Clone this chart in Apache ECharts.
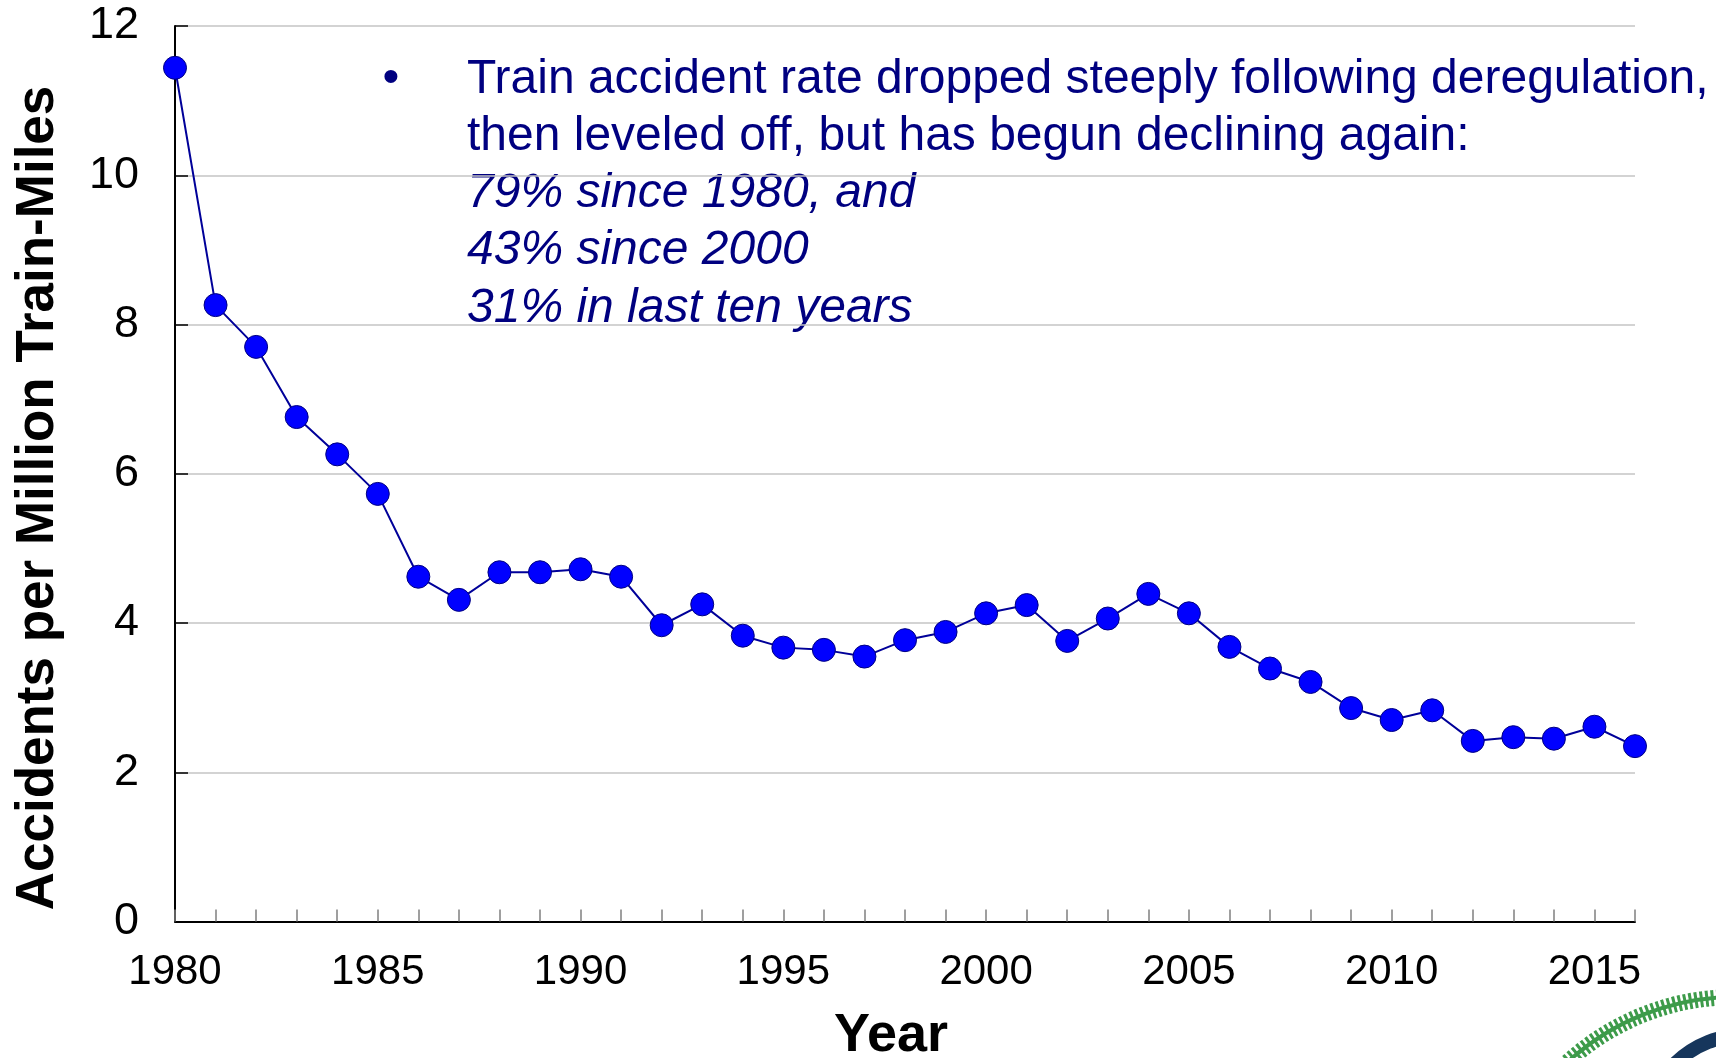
<!DOCTYPE html>
<html>
<head>
<meta charset="utf-8">
<script src="https://cdn.jsdelivr.net/npm/echarts@6/dist/echarts.min.js"></script>
<style>
html, body { margin: 0; padding: 0; background: #fff; }
#chart { width: 1716px; height: 1058px; }
</style>
</head>
<body>
<div id="chart"></div>
<script>
// accident rate per million train-miles
const years = []
for (let y = 1980; y <= 2016; y++) years.push(String(y))
const rates = [
  11.44, 8.26, 7.70, 6.76, 6.26, 5.73, 4.62, 4.31, 4.68, 4.68,
  4.72, 4.62, 3.97, 4.25, 3.83, 3.67, 3.64, 3.55, 3.77, 3.88,
  4.13, 4.24, 3.76, 4.06, 4.39, 4.13, 3.68, 3.39, 3.21, 2.86,
  2.70, 2.83, 2.42, 2.47, 2.45, 2.61, 2.35
]
const noteLines = [
  { text: 'Train accident rate dropped steeply following deregulation,', italic: false },
  { text: 'then leveled off, but has begun declining again:', italic: false },
  { text: '79% since 1980, and', italic: true },
  { text: '43% since 2000', italic: true },
  { text: '31% in last ten years', italic: true }
]

const font = 'Arial, "Liberation Sans", sans-serif'
const navy = '#000080'

let chart = echarts.init(document.getElementById('chart'))

let graphics = []
graphics.push({
  type: 'text', x: 38, y: 498, rotation: Math.PI / 2,
  style: { text: 'Accidents per Million Train-Miles', font: 'bold 53px ' + font, fill: '#000', align: 'center', verticalAlign: 'middle' }
})
graphics.push({
  type: 'text', x: 891, y: 1036,
  style: { text: 'Year', font: 'bold 54px ' + font, fill: '#000', align: 'center', verticalAlign: 'middle' }
})
graphics.push({
  type: 'text', x: 391, y: 79,
  style: { text: '•', font: '48px ' + font, fill: navy, align: 'center', verticalAlign: 'middle' }
})
for (let i = 0; i < noteLines.length; i++) {
  graphics.push({
    type: 'text', x: 467, y: 79.5 + i * 57.2,
    style: {
      text: noteLines[i].text,
      font: (noteLines[i].italic ? 'italic ' : '') + '48px ' + font,
      fill: navy, align: 'left', verticalAlign: 'middle'
    }
  })
}
// logo corner (cut off in the original)
graphics.push({
  type: 'circle', shape: { cx: 1735, cy: 1245, r: 248 },
  style: { fill: 'none', stroke: '#3d9b4a', lineWidth: 16, lineDash: [3, 2.5] }
})
graphics.push({
  type: 'circle', shape: { cx: 1735, cy: 1245, r: 248 },
  style: { fill: 'none', stroke: '#3d9b4a', lineWidth: 4 }
})
graphics.push({
  type: 'circle', shape: { cx: 1745, cy: 1135, r: 100 },
  style: { fill: 'none', stroke: '#16365c', lineWidth: 14 }
})

let option = {
  animation: false,
  backgroundColor: '#fff',
  grid: { left: 175, right: 81, top: 26, bottom: 136.5 },
  xAxis: {
    type: 'category',
    data: years,
    boundaryGap: false,
    axisLine: { lineStyle: { color: '#000', width: 2 } },
    axisTick: { inside: true, length: 12, interval: 0, lineStyle: { color: '#808080', width: 1.5 } },
    axisLabel: {
      interval: 4, margin: 30, color: '#000', fontSize: 42, fontFamily: font,
      formatter: v => (v % 5 === 0 ? v : '')
    },
    splitLine: { show: false }
  },
  yAxis: {
    type: 'value',
    min: 0,
    max: 12,
    interval: 2,
    axisLine: { show: true, lineStyle: { color: '#000', width: 2 } },
    axisTick: { show: true, inside: true, length: 13, lineStyle: { color: '#000', width: 1.5 } },
    axisLabel: { margin: 36, color: '#000', fontSize: 45, fontFamily: font },
    splitLine: { lineStyle: { color: '#c4c4c4', width: 1.5 } }
  },
  series: [
    {
      type: 'line',
      data: rates,
      symbol: 'circle',
      symbolSize: 23,
      clip: false,
      lineStyle: { color: '#000099', width: 2 },
      itemStyle: { color: '#0000ff', borderColor: '#000080', borderWidth: 1 }
    }
  ],
  graphic: graphics
}
chart.setOption(option)
</script>
</body>
</html>
